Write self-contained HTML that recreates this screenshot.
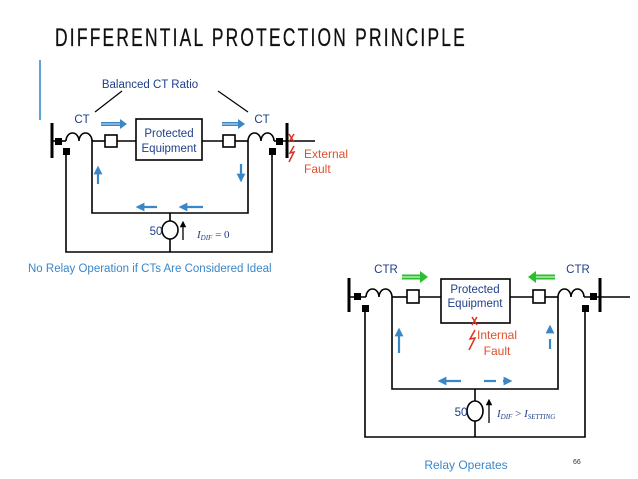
<!DOCTYPE html>
<html><head><style>
body{margin:0;background:#fff;}
svg{display:block;font-family:"Liberation Sans",sans-serif;}
</style></head><body>
<svg width="638" height="479" viewBox="0 0 638 479">
<defs>
<marker id="ab" viewBox="0 0 10 10" refX="5" refY="5" markerWidth="4" markerHeight="4" orient="auto"><path d="M0,0L10,5L0,10z" fill="#3a87c8"/></marker>
<marker id="ak" viewBox="0 0 10 10" refX="5" refY="5" markerWidth="5" markerHeight="5" orient="auto"><path d="M0,0L10,5L0,10z" fill="#000"/></marker>
</defs>
<text x="55" y="46" font-size="25" font-family="Liberation Sans Narrow,Liberation Sans,sans-serif" letter-spacing="3.2" fill="#111" stroke="#111" stroke-width="0.3" textLength="412" lengthAdjust="spacingAndGlyphs">DIFFERENTIAL PROTECTION PRINCIPLE</text>
<rect x="39" y="60" width="2" height="60" fill="#5ba5d4"/>

<g stroke="#000" stroke-width="1.6" fill="none">
<line x1="52" y1="123" x2="52" y2="158" stroke-width="3"/>
<line x1="287" y1="123" x2="287" y2="158" stroke-width="3"/>
<line x1="52" y1="141" x2="66" y2="141"/>
<path d="M66,141 a6.5,8 0 0 1 13,0 a6.5,8 0 0 1 13,0"/>
<line x1="92" y1="141" x2="105" y2="141"/>
<rect x="105" y="135" width="12" height="12" fill="#fff"/>
<line x1="117" y1="141" x2="136" y2="141"/>
<rect x="136" y="119" width="66" height="41" fill="#fff"/>
<line x1="202" y1="141" x2="223" y2="141"/>
<rect x="223" y="135" width="12" height="12" fill="#fff"/>
<line x1="235" y1="141" x2="248" y2="141"/>
<path d="M248,141 a6.5,8 0 0 1 13,0 a6.5,8 0 0 1 13,0"/>
<line x1="274" y1="141" x2="315" y2="141"/>
<polyline points="92,141 92,213 248,213 248,141"/>
<polyline points="66,151 66,252 272,252 272,151"/>
<line x1="170" y1="213" x2="170" y2="221"/>
<line x1="170" y1="239" x2="170" y2="252"/>
<ellipse cx="170" cy="230" rx="8" ry="9" fill="#fff"/>
<line x1="183" y1="240" x2="183" y2="224" stroke-width="1.3" marker-end="url(#ak)"/>
<line x1="95" y1="112" x2="122" y2="91" stroke-width="1.2"/>
<line x1="218" y1="91" x2="248" y2="112" stroke-width="1.2"/>
<line x1="349" y1="278" x2="349" y2="312" stroke-width="3"/>
<line x1="600" y1="278" x2="600" y2="312" stroke-width="3"/>
<line x1="349" y1="297" x2="366" y2="297"/>
<path d="M366,297 a6.5,8 0 0 1 13,0 a6.5,8 0 0 1 13,0"/>
<line x1="392" y1="297" x2="407" y2="297"/>
<rect x="407" y="290" width="12" height="13" fill="#fff"/>
<line x1="419" y1="297" x2="441" y2="297"/>
<rect x="441" y="279" width="69" height="44" fill="#fff"/>
<line x1="510" y1="297" x2="533" y2="297"/>
<rect x="533" y="290" width="12" height="13" fill="#fff"/>
<line x1="545" y1="297" x2="558" y2="297"/>
<path d="M558,297 a6.5,8 0 0 1 13,0 a6.5,8 0 0 1 13,0"/>
<line x1="584" y1="297" x2="630" y2="297"/>
<polyline points="392,297 392,389 558,389 558,297"/>
<polyline points="365,308 365,437 585,437 585,308"/>
<line x1="475" y1="389" x2="475" y2="401"/>
<line x1="475" y1="421" x2="475" y2="437"/>
<ellipse cx="475" cy="411" rx="8" ry="10" fill="#fff"/>
<line x1="489" y1="423" x2="489" y2="402" stroke-width="1.3" marker-end="url(#ak)"/>
</g>
<g fill="#000">
<rect x="55" y="138" width="7" height="7"/><rect x="63" y="148" width="7" height="7"/>
<rect x="276" y="138" width="7" height="7"/><rect x="269" y="148" width="7" height="7"/>
<rect x="354" y="293" width="7" height="7"/><rect x="362" y="305" width="7" height="7"/>
<rect x="590" y="293" width="7" height="7"/><rect x="582" y="305" width="7" height="7"/>
</g>
<g stroke="#3a87c8" stroke-width="2.2" fill="none">
<line x1="101" y1="124" x2="120" y2="124" stroke-width="4"/>
<line x1="222" y1="124" x2="238" y2="124" stroke-width="4"/>
<line x1="98" y1="184" x2="98" y2="170" marker-end="url(#ab)"/>
<line x1="241" y1="164" x2="241" y2="178" marker-end="url(#ab)"/>
<line x1="157" y1="207" x2="140" y2="207" marker-end="url(#ab)"/>
<line x1="203" y1="207" x2="183" y2="207" marker-end="url(#ab)"/>
<line x1="399" y1="353" x2="399" y2="332" marker-end="url(#ab)"/>
<line x1="550" y1="349" x2="550" y2="339"/>
<line x1="550" y1="333" x2="550" y2="329" marker-end="url(#ab)"/>
<line x1="461" y1="381" x2="442" y2="381" marker-end="url(#ab)"/>
<line x1="484" y1="381" x2="496" y2="381"/>
<line x1="503" y1="381" x2="508" y2="381" marker-end="url(#ab)"/>
</g>
<path d="M120,119 L127,124 L120,129z" fill="#3a87c8"/>
<path d="M238,119 L245,124 L238,129z" fill="#3a87c8"/>
<line x1="101" y1="124" x2="120" y2="124" stroke="#fff" stroke-width="0.8"/>
<line x1="222" y1="124" x2="238" y2="124" stroke="#fff" stroke-width="0.8"/>
<line x1="402" y1="277" x2="420" y2="277" stroke="#2bbf2b" stroke-width="5"/>
<path d="M420,271 L428,277 L420,283z" fill="#2bbf2b"/>
<line x1="402" y1="277" x2="420" y2="277" stroke="#fff" stroke-width="1"/>
<line x1="536" y1="277" x2="555" y2="277" stroke="#2bbf2b" stroke-width="5"/>
<path d="M536,271 L528,277 L536,283z" fill="#2bbf2b"/>
<line x1="536" y1="277" x2="555" y2="277" stroke="#fff" stroke-width="1"/>
<g stroke="#e03020" stroke-width="1.5" fill="none">
<path d="M289,134 l5,8 M294,134 l-5,8"/>
<path d="M294,146 l-4,7 l4,-1 l-5,10"/>
<path d="M472,317 l5,8 M477,317 l-5,8"/>
<path d="M475,330 l-5,9 l5,-1 l-6,12"/>
</g>
<g font-size="11.5" fill="#1f3f8a">
<text x="150" y="88" text-anchor="middle">Balanced CT Ratio</text>
<text x="82" y="123" text-anchor="middle">CT</text>
<text x="262" y="123" text-anchor="middle">CT</text>
<text x="169" y="137" text-anchor="middle">Protected</text>
<text x="169" y="152" text-anchor="middle">Equipment</text>
<text x="156" y="235" text-anchor="middle">50</text>
<text x="386" y="273" text-anchor="middle">CTR</text>
<text x="578" y="273" text-anchor="middle">CTR</text>
<text x="475" y="293" text-anchor="middle">Protected</text>
<text x="475" y="307" text-anchor="middle">Equipment</text>
<text x="461" y="416" text-anchor="middle">50</text>
</g>
<g font-size="12" fill="#e0502a">
<text x="304" y="158">External</text>
<text x="304" y="173">Fault</text>
<text x="497" y="339" text-anchor="middle">Internal</text>
<text x="497" y="355" text-anchor="middle">Fault</text>
</g>
<g font-family="Liberation Serif,serif" font-style="italic" font-size="11" fill="#1f3f8a">
<text x="197" y="238">I<tspan font-size="7" dy="2">DIF</tspan><tspan dy="-2" font-style="normal"> = 0</tspan></text>
<text x="497" y="417">I<tspan font-size="7" dy="2">DIF</tspan><tspan dy="-2" font-style="normal"> &gt; </tspan>I<tspan font-size="7" dy="2">SETTING</tspan></text>
</g>
<text x="28" y="272" font-size="11.5" fill="#3a87c8">No Relay Operation if CTs Are Considered Ideal</text>
<text x="466" y="469" font-size="12" fill="#3a87c8" text-anchor="middle">Relay Operates</text>
<text x="573" y="464" font-size="7" fill="#333">66</text>
</svg>
</body></html>
